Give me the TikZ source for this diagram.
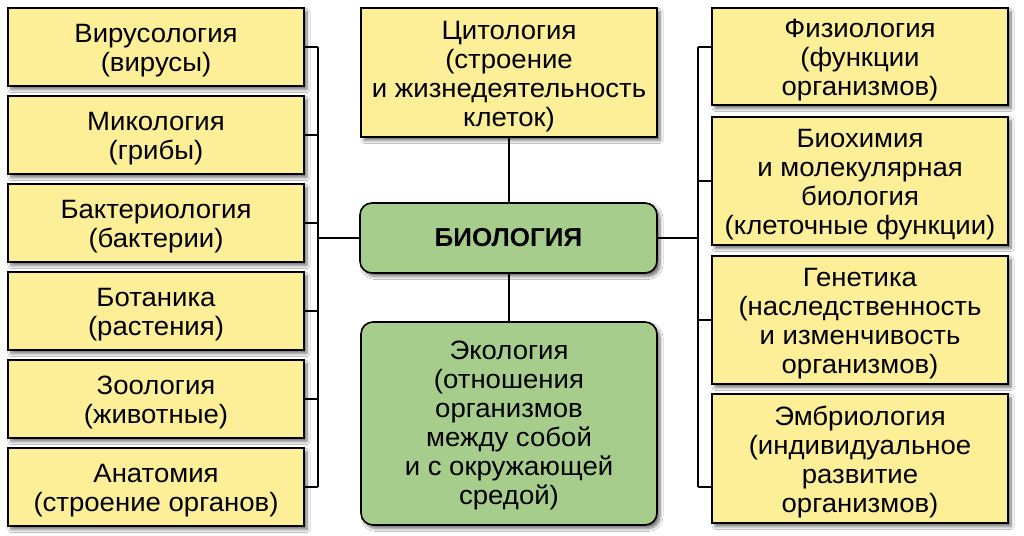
\documentclass[tikz,border=0pt]{standalone}
\usepackage{fontspec}
\setmainfont{Liberation Sans}
\newfontfamily\widefont[FakeStretch=1.04]{Liberation Sans}
\usetikzlibrary{shadows.blur,calc}
\definecolor{boxyellow}{HTML}{FCEF98}
\definecolor{boxgreen}{HTML}{A6CD8C}
\tikzset{
  base/.style={draw=black, line width=1.6pt, align=center, inner sep=2pt,
    font=\widefont\fontsize{26.5}{29}\selectfont, text=black,
    blur shadow={shadow xshift=3pt, shadow yshift=-3.5pt, shadow blur steps=6, shadow blur radius=3pt, shadow opacity=55}},
  ybox/.style={base, rectangle, fill=boxyellow, minimum width=296pt},
  gbox/.style={base, rectangle, rounded corners=12pt, fill=boxgreen, minimum width=296pt},
  link/.style={draw=black, line width=1.4pt}
}
\newcommand{\topgap}{\rule{0pt}{25.5pt}}
\begin{document}
\begin{tikzpicture}[x=1pt,y=-1pt]
\useasboundingbox[fill=white] (0,0) rectangle (1024,535);
% coordinates for the trunks
\coordinate (lt) at (318,47);
\coordinate (lb) at (318,487);
\coordinate (rt) at (698,47);
\coordinate (rb) at (698,487);
% connectors (drawn first)
\draw[link] (lt) -- (lb);
\draw[link] (rt) -- (rb);
\foreach \y in {47,135,223,311,399,487} {\draw[link] (300,\y) -- (318,\y);}
\foreach \y in {47,181,320,487} {\draw[link] (698,\y) -- (716,\y);}
\draw[link] (318,238) -- (364,238);
\draw[link] (654,238) -- (698,238);
\draw[link] (509,133) -- (509,207);
\draw[link] (509,269) -- (509,326);
% left column
\node[ybox, minimum height=78pt] (l1) at (156,47) {\topgap Вирусология\\(вирусы)};
\node[ybox, minimum height=78pt] (l2) at (156,135) {\topgap Микология\\(грибы)};
\node[ybox, minimum height=78pt] (l3) at (156,223) {\topgap Бактериология\\(бактерии)};
\node[ybox, minimum height=78pt] (l4) at (156,311) {\topgap Ботаника\\(растения)};
\node[ybox, minimum height=78pt] (l5) at (156,399) {\topgap Зоология\\(животные)};
\node[ybox, minimum height=78pt] (l6) at (156,487) {\topgap Анатомия\\(строение органов)};
% centre column
\node[ybox, minimum height=129pt] (cito) at (509,72.5) {\topgap Цитология\\(строение\\и жизнедеятельность\\клеток)};
\node[gbox, minimum width=297pt, minimum height=70pt, font=\bfseries\fontsize{26}{30}\selectfont] (bio) at (508.5,238) {БИОЛОГИЯ};
\node[gbox, minimum height=203pt] (eco) at (509,423.5) {\rule{0pt}{23pt}Экология\\(отношения\\организмов\\между собой\\и с окружающей\\средой)};
% right column
\node[ybox, minimum height=97pt] (r1) at (860,56.5) {\topgap Физиология\\(функции\\организмов)};
\node[ybox, minimum height=128pt] (r2) at (860,181) {\topgap Биохимия\\и молекулярная\\биология\\(клеточные функции)};
\node[ybox, minimum height=128pt] (r3) at (860,320) {\topgap Генетика\\(наследственность\\и изменчивость\\организмов)};
\node[ybox, minimum height=129pt] (r4) at (860,458.5) {\topgap Эмбриология\\(индивидуальное\\развитие\\организмов)};
\end{tikzpicture}
\end{document}
